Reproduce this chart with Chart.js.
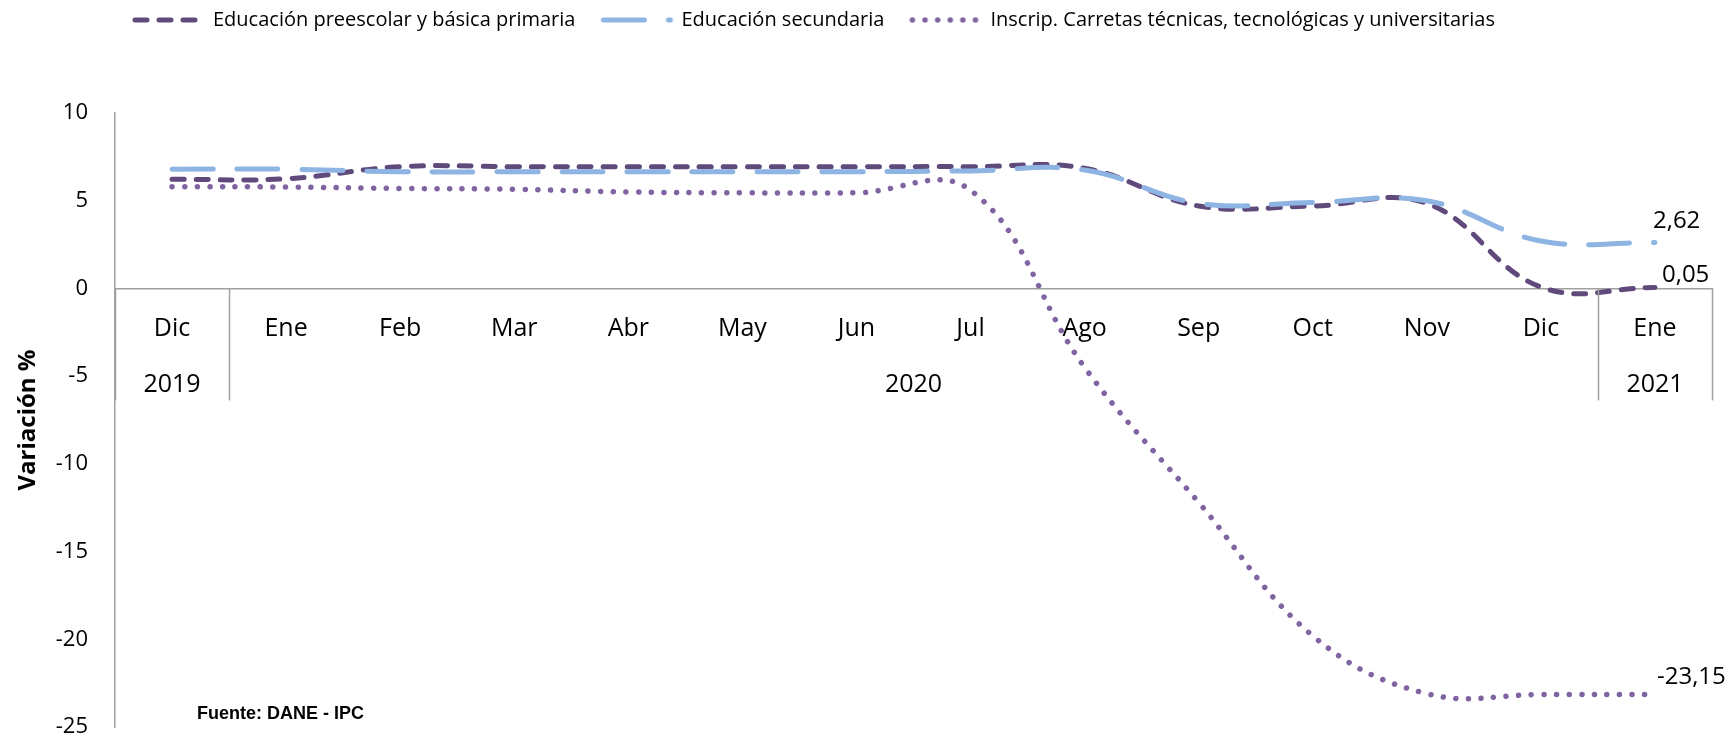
<!DOCTYPE html>
<html lang="es">
<head>
<meta charset="utf-8">
<title>Variación IPC educación</title>
<script src="https://cdn.jsdelivr.net/npm/chart.js@4.4.1/dist/chart.umd.min.js"></script>
<style>
  html, body { margin: 0; padding: 0; background: #fff; }
</style>
</head>
<body>
<canvas id="ipcChart" width="1735" height="737"></canvas>
<script>
const months = ['Dic', 'Ene', 'Feb', 'Mar', 'Abr', 'May', 'Jun', 'Jul', 'Ago', 'Sep', 'Oct', 'Nov', 'Dic', 'Ene'];
const years = ['2019', '2020', '2021'];
const yearStart = [0, 1, 13];
const yearEnd = [0, 12, 13];

const primaria = [6.22, 6.25, 6.94, 6.94, 6.93, 6.93, 6.93, 6.94, 6.85, 4.7, 4.7, 4.85, 0.08, 0.05];
const secundaria = [6.8, 6.8, 6.65, 6.65, 6.65, 6.65, 6.65, 6.7, 6.75, 4.85, 4.9, 5.0, 2.7, 2.62];
const superior = [5.8, 5.78, 5.7, 5.65, 5.5, 5.45, 5.45, 5.6, -4.5, -12.2, -19.8, -23.1, -23.15, -23.15];

const yTicks = [10, 5, 0, -5, -10, -15, -20, -25];

const FONT = "'Open Sans', 'Noto Sans', sans-serif";
const AXIS_GRAY = '#a0a0a0';

// little line samples for the legend
function lineSample(color, width, dash) {
    const c = document.createElement('canvas');
    c.width = 76;
    c.height = 10;
    const g = c.getContext('2d');
    g.strokeStyle = color;
    g.lineWidth = width;
    g.lineCap = 'round';
    g.setLineDash(dash);
    g.beginPath();
    g.moveTo(4, 5);
    g.lineTo(71, 5);
    g.stroke();
    return c;
}

const series = [
    { label: 'Educación preescolar y básica primaria', data: primaria, color: '#604A7B', width: 5, dash: [12, 12], labelDx: 7, labelDy: -12.5 },
    { label: 'Educación secundaria', data: secundaria, color: '#8DB4E2', width: 5, dash: [41, 24], labelDx: -2, labelDy: -21 },
    { label: 'Inscrip. Carretas técnicas, tecnológicas y universitarias', data: superior, color: '#8064A2', width: 5.5, dash: [0.01, 12.6], labelDx: 2, labelDy: -17.5 }
];
const samples = series.map(s => lineSample(s.color, s.width, s.dash));

const layoutFix = {
    id: 'layoutFix',
    beforeInit(chart) {
        const fit = chart.legend.fit;
        chart.legend.fit = function () {
            fit.call(this);
            this.height = 113;
        };
    },
    afterLayout(chart) {
        const lg = chart.legend;
        const pad = lg.options.labels.padding;
        lg.left = 135 - pad;
        lg.top = 20 - pad - 10;
    }
};

const extras = {
    id: 'extras',
    afterDraw(chart) {
        const ctx = chart.ctx;
        const x = chart.scales.x;
        const y = chart.scales.y;
        const zeroY = y.getPixelForValue(0);
        const half = (x.getPixelForValue(1) - x.getPixelForValue(0)) / 2;

        ctx.save();
        // year separators below the axis
        ctx.strokeStyle = AXIS_GRAY;
        ctx.lineWidth = 1.5;
        const bounds = [0, 1, 13, 14];
        bounds.forEach(b => {
            const px = Math.round(x.getPixelForValue(b) - half) + 0.5;
            ctx.beginPath();
            ctx.moveTo(px, zeroY);
            ctx.lineTo(px, zeroY + 112);
            ctx.stroke();
        });

        // year labels
        ctx.fillStyle = '#000';
        ctx.font = '25px ' + FONT;
        ctx.textAlign = 'center';
        ctx.textBaseline = 'middle';
        years.forEach((yr, i) => {
            const cx = (x.getPixelForValue(yearStart[i]) + x.getPixelForValue(yearEnd[i])) / 2;
            ctx.fillText(yr, cx, zeroY + 96);
        });

        // end value labels
        ctx.font = '24px ' + FONT;
        ctx.textAlign = 'left';
        chart.data.datasets.forEach((ds, i) => {
            const meta = chart.getDatasetMeta(i);
            const last = meta.data[meta.data.length - 1];
            const v = ds.data[ds.data.length - 1];
            ctx.fillText(v.toFixed(2).replace('.', ','), last.x + series[i].labelDx, last.y + series[i].labelDy);
        });

        // source note
        ctx.font = 'bold 18px "Liberation Sans", Arial, sans-serif';
        ctx.fillText('Fuente: DANE - IPC', 197, 714);
        ctx.restore();
    }
};

const ctx = document.getElementById('ipcChart').getContext('2d');

new Chart(ctx, {
    type: 'line',
    data: {
        labels: months,
        datasets: series.map((s, i) => ({
            label: s.label,
            data: s.data,
            borderColor: s.color,
            backgroundColor: s.color,
            borderWidth: s.width,
            borderDash: s.dash,
            borderCapStyle: 'round',
            pointRadius: 0,
            tension: 0.4,
            fill: false,
            order: 3 - i
        }))
    },
    options: {
        responsive: false,
        animation: false,
        layout: {
            padding: { top: 0, right: 23, bottom: 0, left: 0 }
        },
        plugins: {
            legend: {
                position: 'top',
                align: 'start',
                labels: {
                    usePointStyle: true,
                    pointStyleWidth: 68,
                    padding: 28,
                    color: '#000',
                    font: { family: FONT, size: 20 },
                    sort: (a, b) => a.datasetIndex - b.datasetIndex,
                    generateLabels(chart) {
                        return Chart.defaults.plugins.legend.labels.generateLabels(chart).map(item => {
                            item.pointStyle = samples[item.datasetIndex];
                            return item;
                        });
                    }
                }
            },
            tooltip: { enabled: false }
        },
        scales: {
            x: {
                type: 'category',
                position: { y: 0 },
                offset: true,
                afterFit(scale) { scale.height = 0; },
                grid: { display: false, drawTicks: false },
                border: { display: true, color: AXIS_GRAY, width: 1.5 },
                ticks: {
                    color: '#000',
                    padding: 25,
                    maxRotation: 0,
                    autoSkip: false,
                    font: { family: FONT, size: 25 }
                }
            },
            y: {
                min: yTicks[yTicks.length - 1],
                max: yTicks[0],
                afterFit(scale) {
                    scale.width = 115;
                    scale.paddingTop = 10;
                    scale.paddingBottom = 10;
                },
                grid: { display: false, drawTicks: false },
                border: { display: true, color: AXIS_GRAY, width: 1.5 },
                ticks: {
                    stepSize: yTicks[0] - yTicks[1],
                    color: '#000',
                    padding: 27,
                    font: { family: FONT, size: 22, lineHeight: 0.91 }
                },
                title: {
                    display: true,
                    text: 'Variación %',
                    color: '#000',
                    padding: { top: 14, bottom: 0 },
                    font: { family: FONT, size: 24, weight: 'bold' }
                }
            }
        }
    },
    plugins: [layoutFix, extras]
});
</script>
</body>
</html>
